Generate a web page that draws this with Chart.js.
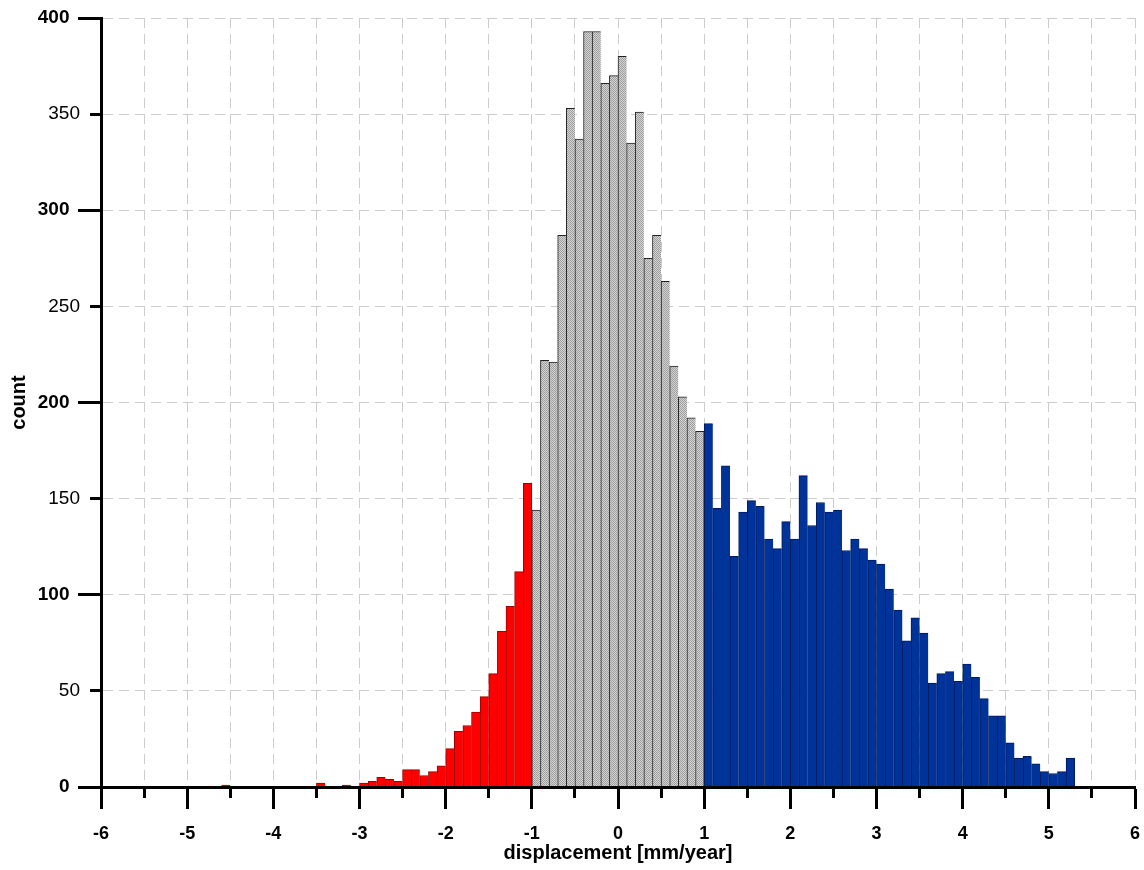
<!DOCTYPE html>
<html>
<head>
<meta charset="utf-8">
<title>displacement histogram</title>
<script src="https://cdn.jsdelivr.net/npm/chart.js@4.4.1/dist/chart.umd.min.js"></script>
<style>
  html, body { margin: 0; padding: 0; background: #fff; }
</style>
</head>
<body>
<canvas id="chart" width="1144" height="870"></canvas>
<script>
// histogram bins are 0.1 mm/year wide
var binWidth = 0.1;

// left edge of the first bin of each colour group
var redStart = -4.6;
var grayStart = -1.0;
var blueStart = 1.0;

// counts (-4.6 .. -1.1)
var redCounts = [1, 0, 0, 0, 0, 0, 0, 0, 0, 0, 0, 2, 0, 0, 1, 0, 2, 3, 5, 4,
                 3, 9, 9, 6, 8, 11, 20, 29, 32, 39, 47, 59, 81, 94, 112, 158];
// -1.0 .. 0.9
var grayCounts = [144, 222, 221, 287, 353, 337, 393, 393, 366, 370,
                  380, 335, 351, 275, 287, 263, 219, 203, 192, 185];
// 1.0 .. 5.2
var blueCounts = [189, 145, 167, 120, 143, 149, 146, 129, 124, 138,
                  129, 162, 136, 148, 143, 144, 123, 129, 124, 118,
                  116, 103, 92, 76, 88, 80, 54, 59, 60, 55,
                  64, 57, 46, 37, 37, 23, 15, 16, 12, 8,
                  7, 8, 15];

var xMin = -6, xMax = 6, xStep = 0.5;
var yMin = 0, yMax = 400, yStep = 50;

var labelFont = 'Arial, "Liberation Sans", sans-serif';

function toPoints(start, counts) {
  var pts = [];
  for (var i = 0; i < counts.length; i++) {
    // bar is centred in the middle of its bin
    pts.push({ x: +(start + i * binWidth + binWidth / 2).toFixed(3), y: counts[i] });
  }
  return pts;
}

// fine dotted fill for the grey bars
function dotPattern(ctx) {
  var c = document.createElement('canvas');
  c.width = 2; c.height = 2;
  var g = c.getContext('2d');
  g.fillStyle = '#d2d2d2';
  g.fillRect(0, 0, 2, 2);
  g.fillStyle = '#a0a0a0';
  g.fillRect(0, 0, 1, 1);
  g.fillRect(1, 1, 1, 1);
  return ctx.createPattern(c, 'repeat');
}

function edges(count) {
  return function (ctx) {
    return { top: 1, left: 1, bottom: 0, right: ctx.dataIndex === count - 1 ? 1 : 0 };
  };
}

function barSet(label, pts, fill, line) {
  return {
    label: label,
    data: pts,
    backgroundColor: fill,
    borderColor: line,
    borderWidth: edges(pts.length),
    borderSkipped: 'start',
    grouped: false,
    barPercentage: 1.0,
    categoryPercentage: 1.0
  };
}

var canvas = document.getElementById('chart');
var ctx = canvas.getContext('2d');

function isMajorY(v) { return v % 100 === 0; }
function isInt(v) { return Math.abs(v - Math.round(v)) < 1e-9; }

// tick colour helpers; the scale context has no tick, so fall back
function tickVal(c) { return c.tick ? c.tick.value : null; }
var CLEAR = 'rgba(0,0,0,0)';

var chart = new Chart(ctx, {
  type: 'bar',
  data: {
    datasets: [
      barSet('red', toPoints(redStart, redCounts), '#ff0000', '#9a0000'),
      barSet('gray', toPoints(grayStart, grayCounts), dotPattern(ctx), '#222222'),
      barSet('blue', toPoints(blueStart, blueCounts), '#003399', '#001a5c')
    ]
  },
  options: {
    responsive: false,
    animation: false,
    events: [],
    layout: { padding: { top: 18, right: 9, left: 0, bottom: 0 } },
    plugins: {
      legend: { display: false },
      tooltip: { enabled: false }
    },
    scales: {
      x: {
        type: 'linear',
        position: 'bottom',
        offset: false,
        min: xMin, max: xMax,
        afterFit: function (s) { s.height = 83; },
        ticks: {
          stepSize: xStep,
          autoSkip: false,
          maxRotation: 0,
          padding: 3,
          color: '#000',
          // tall line box pushes the labels down without a wide side padding
          font: { family: labelFont, size: 18, weight: 'bold', lineHeight: 2.4 },
          callback: function (v) { return isInt(v) ? Math.round(v) : ''; }
        },
        grid: {
          offset: false,
          color: '#cccccc',
          lineWidth: 1,
          tickLength: 22,
          tickWidth: 3,
          tickColor: function (c) { var v = tickVal(c); return v === null || isInt(v) ? '#000' : CLEAR; }
        },
        border: { display: true, color: '#000', width: 3, dash: [10, 6], z: 1 },
        title: {
          display: true,
          text: 'displacement [mm/year]',
          color: '#000',
          font: { family: labelFont, size: 20, weight: 'bold' },
          padding: { top: 0, bottom: 5 }
        }
      },
      // half-unit minor ticks
      x2: {
        type: 'linear',
        position: 'bottom',
        weight: -1,
        offset: false,
        min: xMin, max: xMax,
        afterFit: function (s) { s.height = 0; },
        ticks: { display: false, stepSize: xStep, autoSkip: false },
        grid: {
          offset: false,
          drawOnChartArea: false,
          tickLength: 11,
          tickWidth: 3,
          tickColor: function (c) { var v = tickVal(c); return v === null || isInt(v) ? CLEAR : '#000'; }
        },
        border: { display: false }
      },
      y: {
        type: 'linear',
        position: 'left',
        min: yMin, max: yMax,
        afterFit: function (s) { s.width = 101; },
        ticks: {
          stepSize: yStep,
          autoSkip: false,
          padding: 10,
          color: '#000',
          font: function (c) {
            var v = tickVal(c);
            return { family: labelFont, size: 19, lineHeight: 0.8,
                     weight: v !== null && isMajorY(v) ? 'bold' : 'normal' };
          },
          // hundreds sit further out, next to their longer ticks
          callback: function (v) { return isMajorY(v) ? v + '  ' : '' + v; }
        },
        grid: {
          color: '#cccccc',
          lineWidth: 1,
          tickLength: 11,
          tickWidth: 3,
          tickColor: '#000'
        },
        border: { display: true, color: '#000', width: 3, dash: [10, 6], z: 1 },
        title: {
          display: true,
          text: 'count',
          color: '#000',
          font: { family: labelFont, size: 20, weight: 'bold' },
          padding: { top: 7, bottom: 0 }
        }
      },
      // longer ticks at the hundreds
      y2: {
        type: 'linear',
        position: 'left',
        weight: -1,
        min: yMin, max: yMax,
        afterFit: function (s) { s.width = 0; },
        ticks: { display: false, stepSize: yStep, autoSkip: false },
        grid: {
          drawOnChartArea: false,
          tickLength: 23,
          tickWidth: 3,
          tickColor: function (c) { var v = tickVal(c); return v !== null && isMajorY(v) ? '#000' : CLEAR; }
        },
        border: { display: false }
      }
    }
  }
});
</script>
</body>
</html>
